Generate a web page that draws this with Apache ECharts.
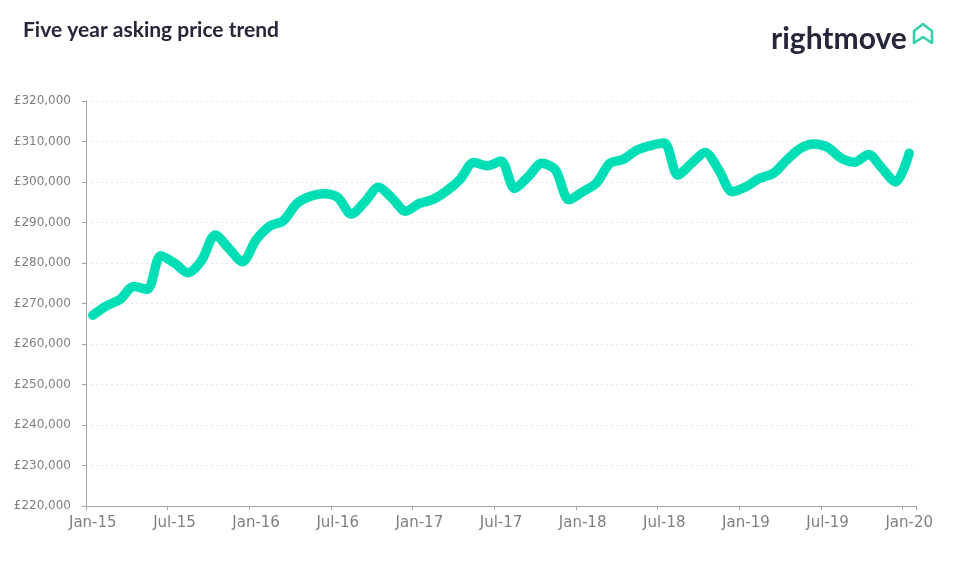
<!DOCTYPE html>
<html>
<head>
<meta charset="utf-8">
<script src="https://cdn.jsdelivr.net/npm/echarts@6/dist/echarts.min.js"></script>
<style>
html,body{margin:0;padding:0;background:#fff;}
#chart{width:960px;height:569px;}
</style>
</head>
<body>
<div id="chart"></div>
<script>
const months = ["Jan-15","Feb-15","Mar-15","Apr-15","May-15","Jun-15","Jul-15","Aug-15","Sep-15","Oct-15","Nov-15","Dec-15",
"Jan-16","Feb-16","Mar-16","Apr-16","May-16","Jun-16","Jul-16","Aug-16","Sep-16","Oct-16","Nov-16","Dec-16",
"Jan-17","Feb-17","Mar-17","Apr-17","May-17","Jun-17","Jul-17","Aug-17","Sep-17","Oct-17","Nov-17","Dec-17",
"Jan-18","Feb-18","Mar-18","Apr-18","May-18","Jun-18","Jul-18","Aug-18","Sep-18","Oct-18","Nov-18","Dec-18",
"Jan-19","Feb-19","Mar-19","Apr-19","May-19","Jun-19","Jul-19","Aug-19","Sep-19","Oct-19","Nov-19","Dec-19",
"Jan-20"];

const askingPrice = [
267100, 269400, 271000, 274200, 273500, 281800, 280000, 277600, 280700, 286900, 283600, 280300,
285700, 289100, 290400, 294700, 296500, 297100, 296200, 292100, 295100, 298700, 296000, 292800,
294700, 295700, 297800, 300700, 304800, 304000, 305200, 298400, 301300, 304600, 303000, 295600,
297600, 299700, 304600, 305600, 307900, 309000, 309600, 301700, 304600, 307300, 303000, 297600,
298800, 300900, 302100, 305400, 308300, 309400, 308600, 305900, 304900, 306800, 303400, 300000,
307100];

const yMin = 220000, yMax = 320000, yStep = 10000;
const titleText = "Five year asking price trend";
const brandText = "rightmove";

const chart = echarts.init(document.getElementById('chart'), null, {renderer:'canvas'});
chart.setOption({
  animation: false,
  backgroundColor: '#ffffff',
  title: {
    text: titleText,
    left: 18, top: 15,
    textStyle: {fontFamily: 'Lato', fontWeight: 'bold', fontSize: 21, color: '#26263a'}
  },
  graphic: [
    {type:'text', left: 771, top: 24,
     style:{text: brandText, font: 'bold 30px Lato', fill:'#26263a'}},
    {type:'polygon', shape:{points:[[914,43],[914,31],[923,24],[932,31],[932,43],[923,37]]},
     style:{fill:'none', stroke:'#35d0a8', lineWidth:2.6, lineJoin:'round'}}
  ],
  grid: {left: 86, right: 44, top: 101, bottom: 63, containLabel: false},
  xAxis: {
    type: 'category',
    data: months,
    boundaryGap: true,
    axisLine: {lineStyle: {color: '#a6a6a6', width: 1}},
    axisTick: {show: true, interval: 5, alignWithLabel: false, length: 4, lineStyle:{color:'#a6a6a6'}},
    axisLabel: {interval: 5, margin: 10, fontFamily: 'DejaVu Sans', fontSize: 15, color: '#7f7f7f'},
    splitLine: {show: false}
  },
  yAxis: {
    type: 'value',
    min: yMin, max: yMax, interval: yStep,
    axisLine: {show: true, lineStyle: {color: '#a6a6a6', width: 1}},
    axisTick: {show: true, length: 4, lineStyle:{color:'#a6a6a6'}},
    axisLabel: {margin: 15, fontFamily: 'DejaVu Sans', fontSize: 12, color: '#7f7f7f',
      formatter: v => '£' + v.toLocaleString('en-GB')},
    splitLine: {show: true, lineStyle: {color: '#e4e4e4', type: [2,3], width: 1}}
  },
  series: [{
    type: 'line',
    data: askingPrice,
    smooth: 0.3,
    showSymbol: false,
    lineStyle: {color: '#00deb6', width: 9.5, cap: 'round', join: 'round'}
  }]
});
</script>
</body>
</html>
